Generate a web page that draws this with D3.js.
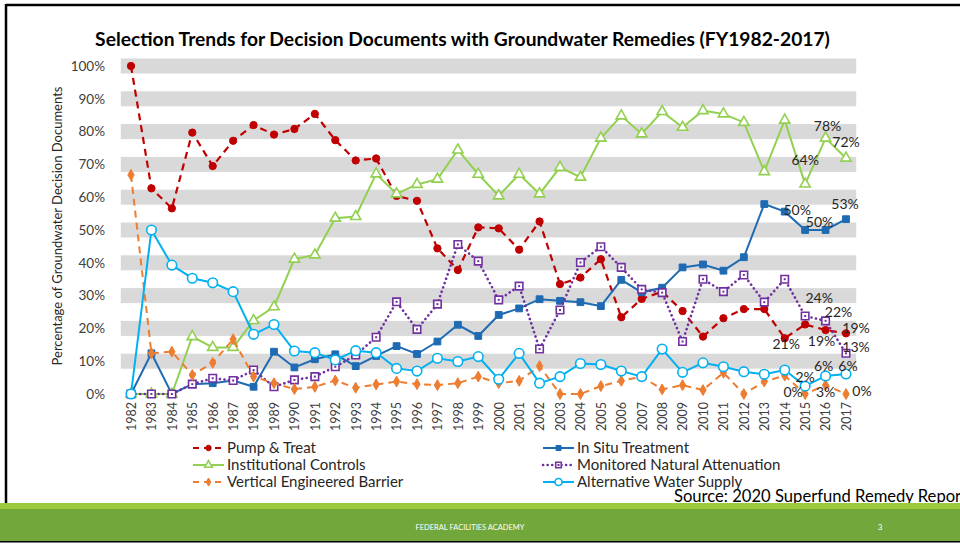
<!DOCTYPE html>
<html>
<head>
<meta charset="utf-8">
<script src="https://cdn.jsdelivr.net/npm/d3@7"></script>
<style>
  body { margin: 0; background: #fff; }
  svg { display: block; font-family: Lato, "Open Sans", sans-serif; }
</style>
</head>
<body>
<script>
const w = 960;
const h = 545;

// * DATA (percent of groundwater decision documents)
const years = d3.range(1982, 2018);
const yTicks = [0, 0.1, 0.2, 0.3, 0.4, 0.5, 0.6, 0.7, 0.8, 0.9, 1.0];

const pumpTreat = [100, 62.7, 56.6, 79.7, 69.5, 77.2, 82.0, 79.1, 80.8, 85.4, 77.4, 71.2, 71.8, 60.4, 58.9, 44.4, 37.8, 50.8, 50.5, 44.0, 52.6, 33.5, 35.5, 41.1, 23.4, 29.0, 31.2, 25.3, 17.5, 23.1, 25.9, 25.9, 17.0, 21.2, 19.5, 18.5];
const inSitu = [0, 12.4, 0, 3.0, 3.3, 4.1, 2.2, 12.9, 8.1, 10.6, 12.1, 8.5, 11.6, 14.6, 12.2, 16.0, 21.1, 17.7, 24.1, 26.1, 28.9, 28.4, 28.0, 26.8, 34.8, 31.0, 32.4, 38.6, 39.5, 37.6, 41.7, 57.9, 55.6, 50.0, 50.0, 53.3];
const institutional = [0, 0, 0, 17.5, 14.2, 14.2, 22.4, 26.6, 41.1, 42.4, 53.6, 54.1, 67.1, 61.0, 63.9, 65.5, 74.4, 67.0, 60.4, 67.0, 61.0, 69.1, 66.1, 78.0, 84.8, 79.3, 86.1, 81.3, 86.4, 85.4, 82.8, 67.8, 83.5, 64.0, 78.0, 71.9];
const mna = [0, 0, 0, 3.0, 4.8, 4.1, 7.3, 2.2, 4.3, 5.3, 8.3, 11.9, 17.3, 28.1, 19.7, 27.4, 45.6, 40.5, 28.7, 32.9, 13.7, 25.6, 40.1, 44.9, 38.6, 31.9, 30.9, 16.0, 35.0, 31.2, 36.3, 28.0, 35.0, 23.8, 22.3, 12.4];
const barrier = [66.8, 12.4, 12.9, 5.8, 9.5, 16.7, 5.3, 3.3, 1.5, 2.2, 4.1, 1.9, 2.9, 3.8, 3.0, 2.7, 3.3, 5.3, 3.3, 4.0, 8.5, 0, 0, 2.4, 4.0, 5.3, 1.4, 2.7, 1.2, 6.5, 0, 3.8, 5.6, 0, 2.7, 0];
const altWater = [0, 50.0, 39.3, 35.3, 33.9, 31.2, 18.2, 21.2, 13.1, 12.6, 10.4, 13.2, 12.6, 7.8, 7.0, 10.9, 9.9, 11.4, 4.5, 12.4, 3.3, 5.3, 9.3, 9.0, 7.0, 5.3, 13.7, 6.6, 9.5, 8.3, 6.8, 6.0, 7.3, 2.4, 5.5, 6.1];

// data labels shown on the last three years
const labelYears = [2015, 2016, 2017];
const pumpTreatLabels = ["21%", "19%", "19%"];
const inSituLabels = ["50%", "50%", "53%"];
const institutionalLabels = ["64%", "78%", "72%"];
const mnaLabels = ["24%", "22%", "13%"];
const barrierLabels = ["0%", "3%", "0%"];
const altWaterLabels = ["2%", "6%", "6%"];

// * SERIES STYLE
const series = [
	{ name: "Pump & Treat", values: pumpTreat, labels: pumpTreatLabels, color: "#C00000", dash: "7,5", width: 2.2,
	  symbol: d3.symbolCircle, size: 42, fill: "#C00000", off: [[-19, 20], [-4, 11], [10, -5]], col: 0, row: 0 },
	{ name: "In Situ Treatment", values: inSitu, labels: inSituLabels, color: "#1F6BB3", dash: null, width: 2,
	  symbol: d3.symbolSquare, size: 46, fill: "#1F6BB3", off: [[-8, -20], [-6, -8], [-1, -15]], col: 1, row: 0 },
	{ name: "Institutional Controls", values: institutional, labels: institutionalLabels, color: "#92D050", dash: null, width: 2,
	  symbol: d3.symbolTriangle, size: 46, fill: "#fff", off: [[0, -24], [2, -12], [0, -16]], col: 0, row: 1 },
	{ name: "Monitored Natural Attenuation", values: mna, labels: mnaLabels, color: "#7030A0", dash: "0.1,4.5", width: 2.6,
	  symbol: d3.symbolSquare, size: 56, fill: "#fff", off: [[14, -18], [13, -9], [10, -6]], col: 1, row: 1 },
	{ name: "Vertical Engineered Barrier", values: barrier, labels: barrierLabels, color: "#ED7D31", dash: "7,5", width: 2,
	  symbol: d3.symbolDiamond, size: 34, fill: "#ED7D31", off: [[-12, -2], [0, 7], [16, -3]], col: 0, row: 2 },
	{ name: "Alternative Water Supply", values: altWater, labels: altWaterLabels, color: "#00B0F0", dash: null, width: 2,
	  symbol: d3.symbolCircle, size: 72, fill: "#fff", off: [[0, -9], [-2, -10], [2, -8]], col: 1, row: 2 }
];

const svg = d3.select("body").append("svg").attr("width", w).attr("height", h);

// * FRAME
svg.append("line").attr("x1", 6).attr("x2", w).attr("y1", 5).attr("y2", 5)
	.attr("stroke", "#000").attr("stroke-width", 2.5);
svg.append("line").attr("x1", 6).attr("x2", 6).attr("y1", 4).attr("y2", 503)
	.attr("stroke", "#000").attr("stroke-width", 2.5);

// * SCALES
const xScale = d3.scalePoint().domain(years).range([131, 846]);
const step = xScale.step();
const yScale = d3.scaleLinear().domain([0, 1]).range([394, 66]);

// * BANDS
svg.append("g").selectAll("rect")
	.data(yTicks.filter((d) => d > 0))
	.enter()
	.append("rect")
	.attr("x", xScale(years[0]) - step / 2)
	.attr("width", xScale(years[years.length - 1]) - xScale(years[0]) + step)
	.attr("y", (d) => yScale(d) - 7.5)
	.attr("height", 15)
	.attr("fill", "#D9D9D9");

// * TITLE
const title = svg.append("text")
	.attr("x", 462.5).attr("y", 46)
	.attr("text-anchor", "middle")
	.style("font-size", "18px").style("font-weight", "bold").attr("fill", "#000")
	.text("Selection Trends for Decision Documents with Groundwater Remedies (FY1982-2017)");
const tl = title.node().getComputedTextLength();
title.style("font-size", (18 * 735 / tl) + "px");

// * AXES
const yAxis = d3.axisLeft(yScale).tickValues(yTicks).tickFormat(d3.format(".0%")).tickSize(0).tickPadding(0);
const gy = svg.append("g").attr("transform", "translate(105,0)").call(yAxis);
gy.select(".domain").remove();
gy.selectAll("text").style("font-size", "13.5px").style("font-family", "Lato, sans-serif").attr("fill", "#404040");

const xAxis = d3.axisBottom(xScale).tickSize(0).tickPadding(0);
const gx = svg.append("g").attr("transform", "translate(0,394)").call(xAxis);
gx.select(".domain").remove();
gx.selectAll("text")
	.attr("transform", "rotate(-90)")
	.attr("text-anchor", "end")
	.attr("x", -8).attr("y", 0).attr("dy", "0.35em")
	.style("font-size", "12.5px").style("font-family", "Lato, sans-serif").attr("fill", "#404040");

svg.append("text")
	.attr("transform", "translate(62,226) rotate(-90)")
	.attr("text-anchor", "middle")
	.style("font-size", "13px").attr("fill", "#262626")
	.text("Percentage of Groundwater Decision Documents");

// * LINES
const line = d3.line().x((d) => xScale(d.year)).y((d) => yScale(d.v / 100));

function marker(g, s, x, y, k) {
	g.append("path")
		.attr("d", d3.symbol().type(s.symbol).size(s.size * k))
		.attr("transform", "translate(" + x + "," + y + ")")
		.attr("fill", s.fill)
		.attr("stroke", s.color)
		.attr("stroke-width", s.fill === "#fff" ? 1.6 : 1);
	if (s.name === "Monitored Natural Attenuation") {
		g.append("rect").attr("x", x - 1).attr("y", y - 1).attr("width", 2).attr("height", 2).attr("fill", s.color);
	}
}

series.forEach((s) => {
	const pts = years.map((y, i) => ({ year: y, v: s.values[i] }));
	const g = svg.append("g");
	g.append("path")
		.datum(pts)
		.attr("d", line)
		.attr("fill", "none")
		.attr("stroke", s.color)
		.attr("stroke-width", s.width)
		.attr("stroke-dasharray", s.dash)
		.attr("stroke-linecap", s.dash && s.dash.startsWith("0.1") ? "round" : "butt");
	pts.forEach((p) => marker(g, s, xScale(p.year), yScale(p.v / 100), 1));
});

// * DATA LABELS
series.forEach((s) => {
	labelYears.forEach((yr, i) => {
		const v = s.values[years.indexOf(yr)];
		svg.append("text")
			.attr("x", xScale(yr) + s.off[i][0])
			.attr("y", yScale(v / 100) + s.off[i][1])
			.attr("dy", "0.35em")
			.attr("text-anchor", "middle")
			.style("font-size", "14px").attr("fill", "#262626")
			.text(s.labels[i]);
	});
});

// * LEGEND
const legX = [193, 543];
const legY = [448, 465, 482];
series.forEach((s) => {
	const x0 = legX[s.col];
	const y0 = legY[s.row];
	const g = svg.append("g");
	g.append("line")
		.attr("x1", x0).attr("x2", x0 + 31).attr("y1", y0).attr("y2", y0)
		.attr("stroke", s.color).attr("stroke-width", s.width)
		.attr("stroke-dasharray", s.dash === "7,5" ? "6,5" : s.dash)
		.attr("stroke-linecap", s.dash && s.dash.startsWith("0.1") ? "round" : "butt");
	marker(g, s, x0 + 15.5, y0, 0.55);
	g.append("text")
		.attr("x", x0 + 34).attr("y", y0).attr("dy", "0.35em")
		.style("font-size", "15px").attr("fill", "#262626")
		.text(s.name);
});

// * SOURCE
svg.append("text")
	.attr("x", 674).attr("y", 502)
	.style("font-size", "16.6px").attr("fill", "#000")
	.text("Source: 2020 Superfund Remedy Report");

// * FOOTER
svg.append("rect").attr("x", 0).attr("y", 503).attr("width", w).attr("height", 7).attr("fill", "#9BCB3C");
svg.append("rect").attr("x", 0).attr("y", 509).attr("width", w).attr("height", 32).attr("fill", "#72A73B");
svg.append("rect").attr("x", 0).attr("y", 541).attr("width", w).attr("height", 1.5).attr("fill", "#000");
svg.append("text")
	.attr("x", 470).attr("y", 530).attr("text-anchor", "middle")
	.style("font-size", "7.5px").attr("fill", "#fff")
	.text("FEDERAL FACILITIES ACADEMY");
svg.append("text")
	.attr("x", 880).attr("y", 530).attr("text-anchor", "middle")
	.style("font-size", "8px").attr("fill", "#fff")
	.text("3");
</script>
</body>
</html>
